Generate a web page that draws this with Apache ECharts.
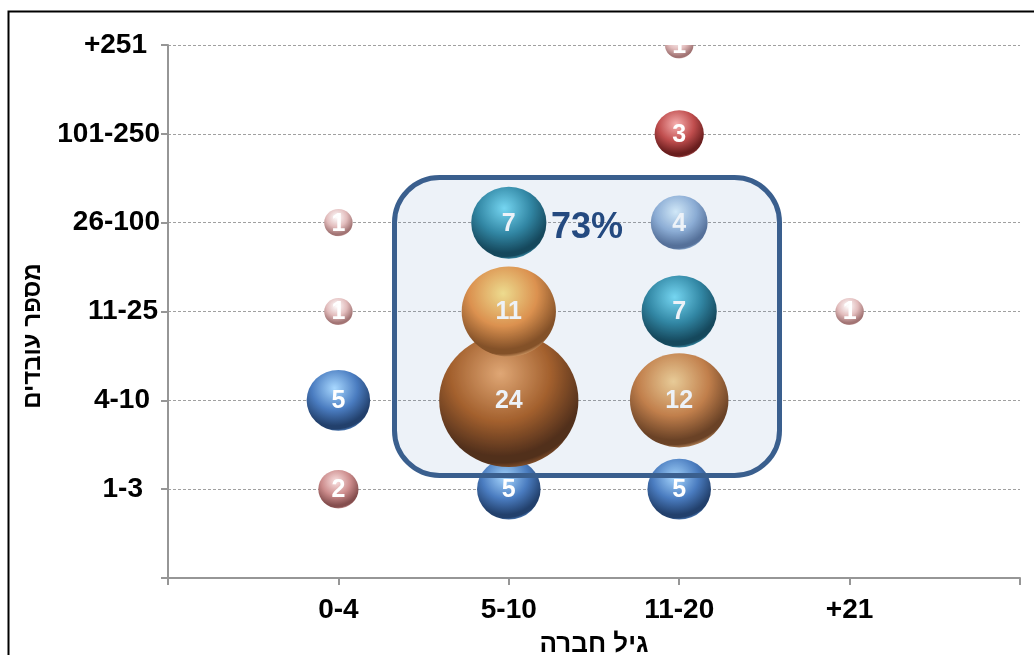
<!DOCTYPE html>
<html>
<head>
<meta charset="utf-8">
<script src="https://cdn.jsdelivr.net/npm/echarts@6/dist/echarts.min.js"></script>
<style>
html, body { margin: 0; padding: 0; background: #ffffff; }
#chart { width: 1034px; height: 655px; }
</style>
</head>
<body>
<div id="chart"></div>
<script>
// ---------- data ----------
const ageCategories = ['0-4', '5-10', '11-20', '+21'];
const employeeCategories = ['1-3', '4-10', '11-25', '26-100', '101-250', '+251'];
// each bubble: age group (1-based), employee group (1-based), number of companies
const pointAge       = [1, 1, 1, 1,  2, 2, 2, 2,  3, 3, 3, 3, 3, 3,  4];
const pointEmployees = [1, 2, 3, 4,  1, 2, 3, 4,  1, 2, 3, 4, 5, 6,  3];
const pointCount     = [2, 5, 1, 1,  5, 24, 11, 7, 5, 12, 7, 4, 3, 1, 1];
const highlightLabel = '73%';
const xTitle = 'גיל חברה';
const yTitle = 'מספר עובדים';

// ---------- styles ----------
const pointColor = ['pink2', 'blue', 'pink', 'pink', 'blue', 'brown', 'orange', 'teal',
                    'blue', 'copper', 'teal', 'sky', 'red', 'pink', 'pink'];
// [highlight, base, shadow, rim]
const palette = {
  blue:   ['#a8d8ff', '#4a7cc0', '#22406c', '#5588c8'],
  brown:  ['#f0ac6e', '#ad5d1e', '#52270a', '#94511c'],
  orange: ['#ffe68a', '#ec9444', '#8a4c18', '#eaa664'],
  copper: ['#f9d494', '#cf8040', '#6e3c16', '#d09258'],
  teal:   ['#7ae0f8', '#2f88a2', '#0f4252', '#40a0ba'],
  sky:    ['#e0f4ff', '#93b2d8', '#566f96', '#a4c2e4'],
  red:    ['#f6b0b0', '#c04e4e', '#6a1e1e', '#c86a6a'],
  pink:   ['#ffffff', '#e2bcbc', '#a27474', '#eed2d2'],
  pink2:  ['#fae2e2', '#cc8c8c', '#854e4e', '#d8a4a4']
};
const yLabelPad = [17, 10, 2, 0, 0, 13];
const FONT = 'Arial, "Liberation Sans", "DejaVu Sans", sans-serif';
const maxCount = Math.max.apply(null, pointCount);

const chart = echarts.init(document.getElementById('chart'), null, { renderer: 'canvas' });

function renderBubble(params, api) {
  const x = api.value(0), y = api.value(1), v = api.value(2);
  const p = api.coord([x, y]);
  const d = params.coordSys.height * 0.25 * Math.sqrt(v / maxCount);
  const c = palette[pointColor[params.dataIndex]];
  const fill = new echarts.graphic.RadialGradient(0.44, 0.3, 0.72, [
    { offset: 0, color: c[0] },
    { offset: 0.5, color: c[1] },
    { offset: 0.86, color: c[2] },
    { offset: 0.93, color: c[2] },
    { offset: 1, color: c[3] }
  ]);
  return {
    type: 'group',
    children: [
      { type: 'circle', x: p[0], y: p[1], scaleX: 1.045,
        shape: { cx: 0, cy: 0, r: d / 2 }, style: { fill: fill } },
      { type: 'text', x: p[0], y: p[1] + 1,
        style: { text: String(v), fill: '#ffffff', font: 'bold 25px ' + FONT,
                 align: 'center', verticalAlign: 'middle' } }
    ]
  };
}

const rich = {};
yLabelPad.forEach(function (w, i) { rich['p' + i] = { width: w }; });

chart.setOption({
  animation: false,
  backgroundColor: '#ffffff',
  grid: { left: 168, right: 14, top: 45, bottom: 77, containLabel: false, outerBoundsMode: 'none' },
  xAxis: {
    type: 'value', min: 0, max: 5, interval: 1,
    name: xTitle, nameLocation: 'middle', nameGap: 54,
    nameTextStyle: { color: '#000', fontSize: 26, fontWeight: 'bold', fontFamily: FONT },
    axisLine: { show: true, lineStyle: { color: '#969696', width: 2 } },
    axisTick: { show: true, length: 7, lineStyle: { color: '#969696', width: 2 } },
    splitLine: { show: false },
    axisLabel: {
      margin: 18, color: '#000', fontSize: 28, fontWeight: 'bold', fontFamily: FONT,
      formatter: function (v) { return ageCategories[Math.round(v) - 1] || ''; }
    }
  },
  yAxis: {
    type: 'value', min: 0, max: 6, interval: 1,
    axisLine: { show: true, lineStyle: { color: '#969696', width: 2 } },
    axisTick: { show: true, length: 7, lineStyle: { color: '#969696', width: 2 } },
    splitLine: { show: true, lineStyle: { color: '#a0a0a0', width: 1, type: [3, 2] } },
    axisLabel: {
      margin: 8, color: '#000', fontSize: 28, fontWeight: 'bold', fontFamily: FONT,
      rich: rich,
      formatter: function (v) {
        const i = Math.round(v) - 1;
        if (i < 0 || i >= employeeCategories.length) return '';
        return employeeCategories[i] + '{p' + i + '| }';
      }
    }
  },
  series: [{
    type: 'custom',
    clip: true,
    z: 3,
    renderItem: renderBubble,
    encode: { x: 0, y: 1 },
    data: pointAge.map(function (a, i) { return [a, pointEmployees[i], pointCount[i]]; })
  }],
  graphic: [
    { type: 'rect', z: 1, silent: true,
      shape: { x: 8.5, y: 11.5, width: 1100, height: 1000 },
      style: { fill: 'none', stroke: '#000000', lineWidth: 2 } },
    { type: 'rect', z: 50, silent: true,
      shape: { x: 394.5, y: 177.5, width: 385, height: 298, r: 45 },
      style: { fill: 'rgba(79,129,189,0.10)', stroke: '#3a5f8e', lineWidth: 5 } },
    { type: 'text', z: 60, silent: true, x: 587, y: 228,
      style: { text: highlightLabel, fill: '#244a80', font: 'bold 36px ' + FONT,
               align: 'center', verticalAlign: 'middle' } },
    { type: 'text', z: 60, silent: true, x: 33, y: 336, rotation: Math.PI / 2,
      style: { text: yTitle, fill: '#000000', font: 'bold 24px ' + FONT,
               align: 'center', verticalAlign: 'middle' } }
  ]
});
</script>
</body>
</html>
